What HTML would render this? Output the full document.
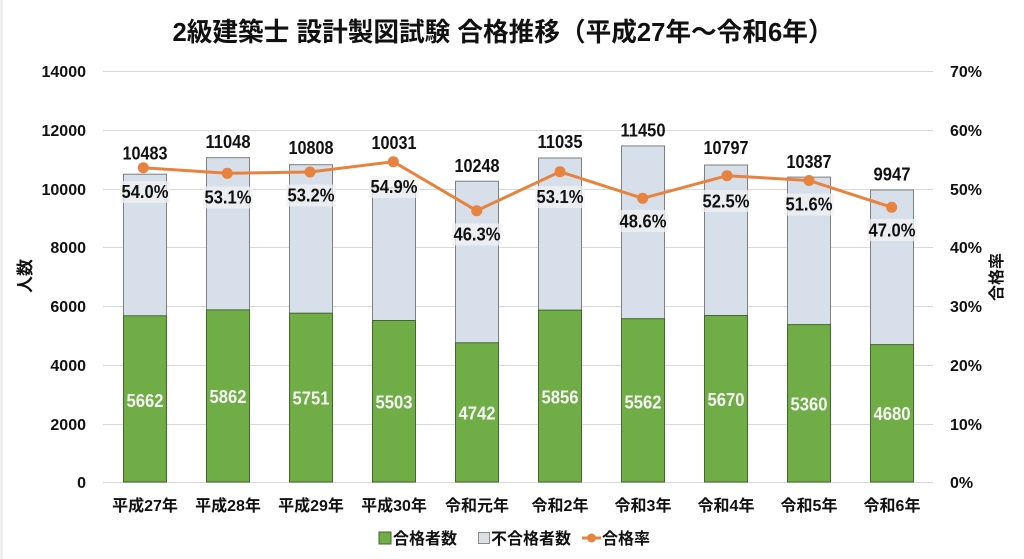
<!DOCTYPE html>
<html>
<head>
<meta charset="utf-8">
<style>
html,body{margin:0;padding:0;background:#fff;}
svg{display:block;}
text{font-family:"Liberation Sans","Noto Sans CJK JP",sans-serif;font-weight:bold;fill:#111;}
</style>
</head>
<body>
<svg width="1024" height="559" viewBox="0 0 1024 559" xmlns="http://www.w3.org/2000/svg">
<rect x="0" y="0" width="1024" height="559" fill="#fff"/>
<line x1="1.5" y1="0" x2="1.5" y2="559" stroke="#e6e6e6" stroke-width="2"/>
<!-- title -->
<text x="503" y="41" font-size="26" text-anchor="middle" textLength="661" lengthAdjust="spacingAndGlyphs">2級建築士 設計製図試験 合格推移（平成27年～令和6年）</text>

<!-- gridlines -->
<g stroke="#d9d9d9" stroke-width="1">
<line x1="103" y1="71.5" x2="933" y2="71.5"/>
<line x1="103" y1="130.5" x2="933" y2="130.5"/>
<line x1="103" y1="189.5" x2="933" y2="189.5"/>
<line x1="103" y1="247.5" x2="933" y2="247.5"/>
<line x1="103" y1="306.5" x2="933" y2="306.5"/>
<line x1="103" y1="365.5" x2="933" y2="365.5"/>
<line x1="103" y1="424.5" x2="933" y2="424.5"/>
<line x1="103" y1="482.5" x2="933" y2="482.5"/>
</g>

<!-- left axis labels -->
<g font-size="16" text-anchor="end">
<text x="86" y="77">14000</text>
<text x="86" y="136">12000</text>
<text x="86" y="195">10000</text>
<text x="86" y="253">8000</text>
<text x="86" y="312">6000</text>
<text x="86" y="371">4000</text>
<text x="86" y="430">2000</text>
<text x="86" y="488">0</text>
</g>
<!-- right axis labels -->
<g font-size="16" text-anchor="start">
<text x="950" y="77">70%</text>
<text x="950" y="136">60%</text>
<text x="950" y="195">50%</text>
<text x="950" y="253">40%</text>
<text x="950" y="312">30%</text>
<text x="950" y="371">20%</text>
<text x="950" y="430">10%</text>
<text x="950" y="488">0%</text>
</g>
<!-- axis titles -->
<text transform="translate(31,276) rotate(-90)" font-size="17" text-anchor="middle">人数</text>
<text transform="translate(1002,277) rotate(-90)" font-size="16" text-anchor="middle">合格率</text>

<!-- bars -->
<g stroke-width="1">
<g fill="#d6dfea" stroke="#7f7f7f">
<rect x="123.5" y="174.2" width="43" height="307.8"/>
<rect x="206.5" y="157.7" width="43" height="324.3"/>
<rect x="289.5" y="164.7" width="43" height="317.3"/>
<rect x="372.5" y="187.5" width="43" height="294.5"/>
<rect x="455.5" y="181.2" width="43" height="300.8"/>
<rect x="538.5" y="158.0" width="43" height="324.0"/>
<rect x="621.5" y="145.9" width="43" height="336.1"/>
<rect x="704.5" y="165.0" width="43" height="317.0"/>
<rect x="787.5" y="177.1" width="43" height="304.9"/>
<rect x="870.5" y="190.0" width="43" height="292.0"/>
</g>
<g fill="#70ad47" stroke="#41682a">
<rect x="123.5" y="315.8" width="43" height="166.2"/>
<rect x="206.5" y="309.9" width="43" height="172.1"/>
<rect x="289.5" y="313.2" width="43" height="168.8"/>
<rect x="372.5" y="320.5" width="43" height="161.5"/>
<rect x="455.5" y="342.8" width="43" height="139.2"/>
<rect x="538.5" y="310.1" width="43" height="171.9"/>
<rect x="621.5" y="318.7" width="43" height="163.3"/>
<rect x="704.5" y="315.5" width="43" height="166.5"/>
<rect x="787.5" y="324.6" width="43" height="157.4"/>
<rect x="870.5" y="344.6" width="43" height="137.4"/>
</g>
</g>

<!-- green labels -->
<g font-size="18" text-anchor="middle">
<text x="145" y="407" style="fill:#f4f4f4" textLength="37" lengthAdjust="spacingAndGlyphs">5662</text>
<text x="228" y="403" style="fill:#f4f4f4" textLength="37" lengthAdjust="spacingAndGlyphs">5862</text>
<text x="311" y="404.6" style="fill:#f4f4f4" textLength="37" lengthAdjust="spacingAndGlyphs">5751</text>
<text x="394" y="408.6" style="fill:#f4f4f4" textLength="37" lengthAdjust="spacingAndGlyphs">5503</text>
<text x="477" y="419.6" style="fill:#f4f4f4" textLength="37" lengthAdjust="spacingAndGlyphs">4742</text>
<text x="560" y="403.3" style="fill:#f4f4f4" textLength="37" lengthAdjust="spacingAndGlyphs">5856</text>
<text x="643" y="408.3" style="fill:#f4f4f4" textLength="37" lengthAdjust="spacingAndGlyphs">5562</text>
<text x="726" y="406" style="fill:#f4f4f4" textLength="37" lengthAdjust="spacingAndGlyphs">5670</text>
<text x="809" y="410.6" style="fill:#f4f4f4" textLength="37" lengthAdjust="spacingAndGlyphs">5360</text>
<text x="892" y="420" style="fill:#f4f4f4" textLength="37" lengthAdjust="spacingAndGlyphs">4680</text>
</g>

<!-- total labels -->
<g font-size="18" text-anchor="middle">
<text x="145" y="159.6" textLength="45" lengthAdjust="spacingAndGlyphs">10483</text>
<text x="228" y="148" textLength="45" lengthAdjust="spacingAndGlyphs">11048</text>
<text x="311" y="154" textLength="45" lengthAdjust="spacingAndGlyphs">10808</text>
<text x="394" y="149" textLength="45" lengthAdjust="spacingAndGlyphs">10031</text>
<text x="477" y="172" textLength="45" lengthAdjust="spacingAndGlyphs">10248</text>
<text x="560" y="148" textLength="45" lengthAdjust="spacingAndGlyphs">11035</text>
<text x="643" y="136.3" textLength="45" lengthAdjust="spacingAndGlyphs">11450</text>
<text x="726" y="154" textLength="45" lengthAdjust="spacingAndGlyphs">10797</text>
<text x="809" y="168" textLength="45" lengthAdjust="spacingAndGlyphs">10387</text>
<text x="892" y="180.3" textLength="37" lengthAdjust="spacingAndGlyphs">9947</text>
</g>

<!-- percent label backgrounds -->
<g fill="#f2f2f2" fill-opacity="0.75">
<rect x="120" y="181" width="50" height="22"/>
<rect x="203" y="186.5" width="50" height="22"/>
<rect x="286" y="184.5" width="50" height="22"/>
<rect x="369" y="176" width="50" height="22"/>
<rect x="452" y="223.5" width="50" height="22"/>
<rect x="535" y="186" width="50" height="22"/>
<rect x="618" y="210" width="50" height="22"/>
<rect x="701" y="190" width="50" height="22"/>
<rect x="784" y="193.5" width="50" height="22"/>
<rect x="867" y="219" width="50" height="22"/>
</g>
<!-- percent labels -->
<g font-size="18" text-anchor="middle">
<text x="145" y="198" textLength="47" lengthAdjust="spacingAndGlyphs">54.0%</text>
<text x="228" y="203.6" textLength="47" lengthAdjust="spacingAndGlyphs">53.1%</text>
<text x="311" y="201.6" textLength="47" lengthAdjust="spacingAndGlyphs">53.2%</text>
<text x="394" y="193" textLength="47" lengthAdjust="spacingAndGlyphs">54.9%</text>
<text x="477" y="240.6" textLength="47" lengthAdjust="spacingAndGlyphs">46.3%</text>
<text x="560" y="203" textLength="47" lengthAdjust="spacingAndGlyphs">53.1%</text>
<text x="643" y="227.3" textLength="47" lengthAdjust="spacingAndGlyphs">48.6%</text>
<text x="726" y="207.3" textLength="47" lengthAdjust="spacingAndGlyphs">52.5%</text>
<text x="809" y="210.6" textLength="47" lengthAdjust="spacingAndGlyphs">51.6%</text>
<text x="892" y="236.3" textLength="47" lengthAdjust="spacingAndGlyphs">47.0%</text>
</g>

<!-- line -->
<polyline fill="none" stroke="#e8823f" stroke-width="3" stroke-linejoin="round"
 points="143.3,167.7 227.3,173.3 310,172 393.3,161.7 476.7,210.7 560,171.7 642.7,198.3 727,175.7 809,180.5 891.7,207.3"/>
<g fill="#e8823f">
<circle cx="143.3" cy="167.7" r="5.5"/>
<circle cx="227.3" cy="173.3" r="5.5"/>
<circle cx="310" cy="172" r="5.5"/>
<circle cx="393.3" cy="161.7" r="5.5"/>
<circle cx="476.7" cy="210.7" r="5.5"/>
<circle cx="560" cy="171.7" r="5.5"/>
<circle cx="642.7" cy="198.3" r="5.5"/>
<circle cx="727" cy="175.7" r="5.5"/>
<circle cx="809" cy="180.5" r="5.5"/>
<circle cx="891.7" cy="207.3" r="5.5"/>
</g>

<!-- x labels -->
<g font-size="16" text-anchor="middle">
<text x="145" y="511">平成27年</text>
<text x="228" y="511">平成28年</text>
<text x="311" y="511">平成29年</text>
<text x="394" y="511">平成30年</text>
<text x="477" y="511">令和元年</text>
<text x="560" y="511">令和2年</text>
<text x="643" y="511">令和3年</text>
<text x="726" y="511">令和4年</text>
<text x="809" y="511">令和5年</text>
<text x="892" y="511">令和6年</text>
</g>

<!-- legend -->
<rect x="379" y="532" width="12" height="12" fill="#70ad47" stroke="#41682a" stroke-width="1"/>
<text x="393" y="544" font-size="16">合格者数</text>
<rect x="478.5" y="532.5" width="11" height="11" fill="#dcdfe3" stroke="#8a8a8a" stroke-width="1"/>
<text x="491" y="544" font-size="16">不合格者数</text>
<line x1="582" y1="538" x2="601" y2="538" stroke="#e8823f" stroke-width="3"/>
<circle cx="591.5" cy="538" r="4.5" fill="#e8823f"/>
<text x="602" y="544" font-size="16">合格率</text>
</svg>
</body>
</html>
